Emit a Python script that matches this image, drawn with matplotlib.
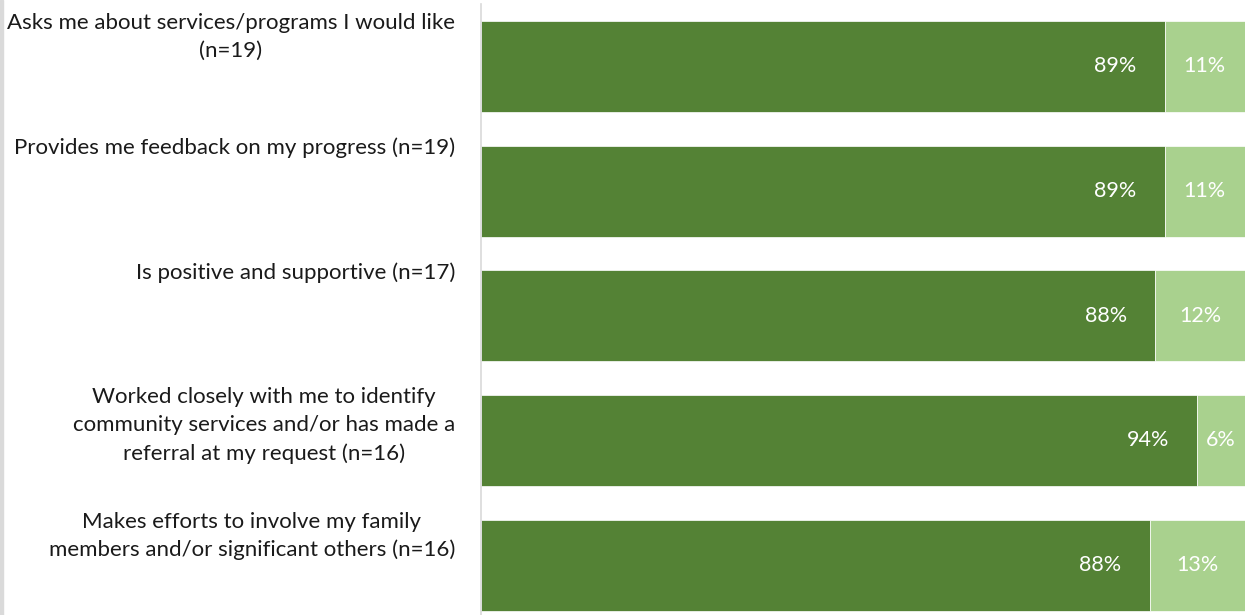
import matplotlib
matplotlib.use('Agg')
from matplotlib import pyplot as plt
from matplotlib.patches import Rectangle

# survey items and shares (%)
items = ['Asks me about services/programs I would like\n(n=19)',
         'Provides me feedback on my progress (n=19)',
         'Is positive and supportive (n=17)',
         'Worked closely with me to identify\ncommunity services and/or has made a\nreferral at my request (n=16)',
         'Makes efforts to involve my family\nmembers and/or significant others (n=16)']
agree = [89.47, 89.47, 88.24, 93.75, 87.5]
disagree = [10.53, 10.53, 11.76, 6.25, 12.5]
agree_labels = ['89%', '89%', '88%', '94%', '88%']
disagree_labels = ['11%', '11%', '12%', '6%', '13%']

dark = '#548235'
light = '#A9D18E'
plt.rcParams['font.family'] = ['Lato', 'DejaVu Sans']

fig = plt.figure(figsize=(12.45, 6.15), dpi=100)
fig.patches.append(Rectangle((0, 0), 3 / 1245, 1, transform=fig.transFigure,
                             color='#DADADA', zorder=0))
ax = fig.add_axes([481 / 1245, 0, 1 - 481 / 1245, 1 - 4 / 615])

y = list(range(len(items)))
h = 0.73
ax.barh(y, agree, height=h, color=dark, edgecolor='white', linewidth=0.5)
ax.barh(y, disagree, left=agree, height=h, color=light, edgecolor='white', linewidth=0.5)

for i in y:
    ax.annotate(agree_labels[i], (agree[i], i), xytext=(-28, 0), textcoords='offset pixels',
                color='white', fontsize=15.5, ha='right', va='center')
    ax.annotate(disagree_labels[i], (agree[i] + disagree[i] / 2, i), xytext=(0, 0),
                textcoords='offset pixels', color='white', fontsize=15.5,
                ha='center', va='center')
    ax.text(-0.034, i - h / 2 - 0.065, items[i], transform=ax.get_yaxis_transform(),
            ha='right', va='top', multialignment='center', fontsize=16,
            linespacing=1.5, color='#1a1a1a')

ax.set_xlim(0, 100)
ax.set_ylim(4.4, -0.5)
ax.set_xticks([])
ax.set_yticks([])
for s in ['top', 'right', 'bottom']:
    ax.spines[s].set_visible(False)
ax.spines['left'].set_color('#D9D9D9')
ax.spines['left'].set_linewidth(1.2)

fig.savefig('out.png', dpi=100)
